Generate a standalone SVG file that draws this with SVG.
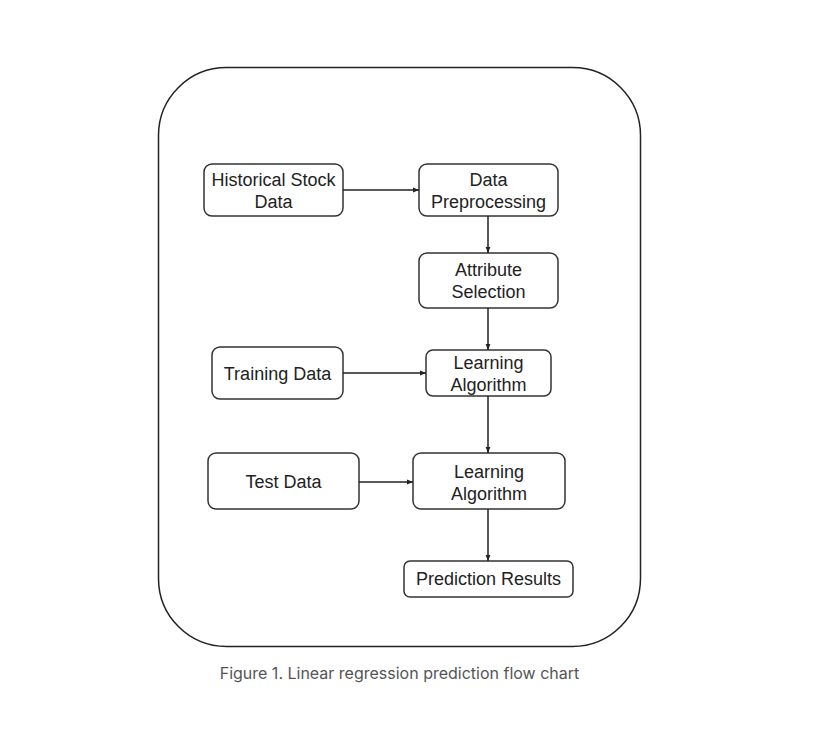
<svg xmlns="http://www.w3.org/2000/svg" width="823" height="729" viewBox="0 0 823 729">
<defs>
<marker id="ah" viewBox="0 0 10 10" refX="10" refY="5" markerWidth="6" markerHeight="6" markerUnits="userSpaceOnUse" orient="auto">
<path d="M0,1 L10,5 L0,9 z" fill="#222"/>
</marker>
<style>
.box{fill:#fff;stroke:#333;stroke-width:1.5}
.t{font-family:"Liberation Sans",Arial,sans-serif;font-size:18px;fill:#222;text-anchor:middle}
.c{stroke:#222;stroke-width:1.5;fill:none;marker-end:url(#ah)}
</style>
</defs>
<rect width="823" height="729" fill="#fff"/>
<rect id="frame" x="158.5" y="67.5" width="482" height="579" rx="68" ry="68" fill="none" stroke="#222" stroke-width="1.5"/>
<g id="historical">
<rect class="box" x="204" y="164" width="139" height="52" rx="8"/>
<text class="t" x="273.5" y="186">Historical Stock</text>
<text class="t" x="273.5" y="208">Data</text>
</g>
<g id="preprocessing">
<rect class="box" x="419" y="164" width="139" height="52" rx="8"/>
<text class="t" x="488.5" y="186">Data</text>
<text class="t" x="488.5" y="208">Preprocessing</text>
</g>
<g id="attribute">
<rect class="box" x="419" y="253" width="139" height="55" rx="8"/>
<text class="t" x="488.5" y="276">Attribute</text>
<text class="t" x="488.5" y="298">Selection</text>
</g>
<g id="training">
<rect class="box" x="212" y="347" width="131" height="52" rx="8"/>
<text class="t" x="277.5" y="380">Training Data</text>
</g>
<g id="learning1">
<rect class="box" x="426" y="350" width="125" height="46" rx="7"/>
<text class="t" x="488.5" y="369">Learning</text>
<text class="t" x="488.5" y="391">Algorithm</text>
</g>
<g id="test">
<rect class="box" x="208" y="453" width="151" height="56" rx="8"/>
<text class="t" x="283.5" y="488">Test Data</text>
</g>
<g id="learning2">
<rect class="box" x="413" y="453" width="152" height="56" rx="8"/>
<text class="t" x="489" y="478">Learning</text>
<text class="t" x="489" y="500">Algorithm</text>
</g>
<g id="prediction">
<rect class="box" x="404" y="561" width="169" height="36" rx="6"/>
<text class="t" x="488.5" y="585">Prediction Results</text>
</g>
<g id="connectors">
<line class="c" x1="343" y1="190" x2="419" y2="190"/>
<line class="c" x1="488" y1="216" x2="488" y2="253"/>
<line class="c" x1="488" y1="308" x2="488" y2="350"/>
<line class="c" x1="343" y1="373" x2="426" y2="373"/>
<line class="c" x1="488" y1="396" x2="488" y2="453"/>
<line class="c" x1="359" y1="482" x2="413" y2="482"/>
<line class="c" x1="488" y1="509" x2="488" y2="561"/>
</g>
<text id="caption" x="399.5" y="679" font-family="Inter,'Noto Sans',sans-serif" font-size="16" fill="#555" text-anchor="middle">Figure 1. Linear regression prediction flow chart</text>
</svg>
